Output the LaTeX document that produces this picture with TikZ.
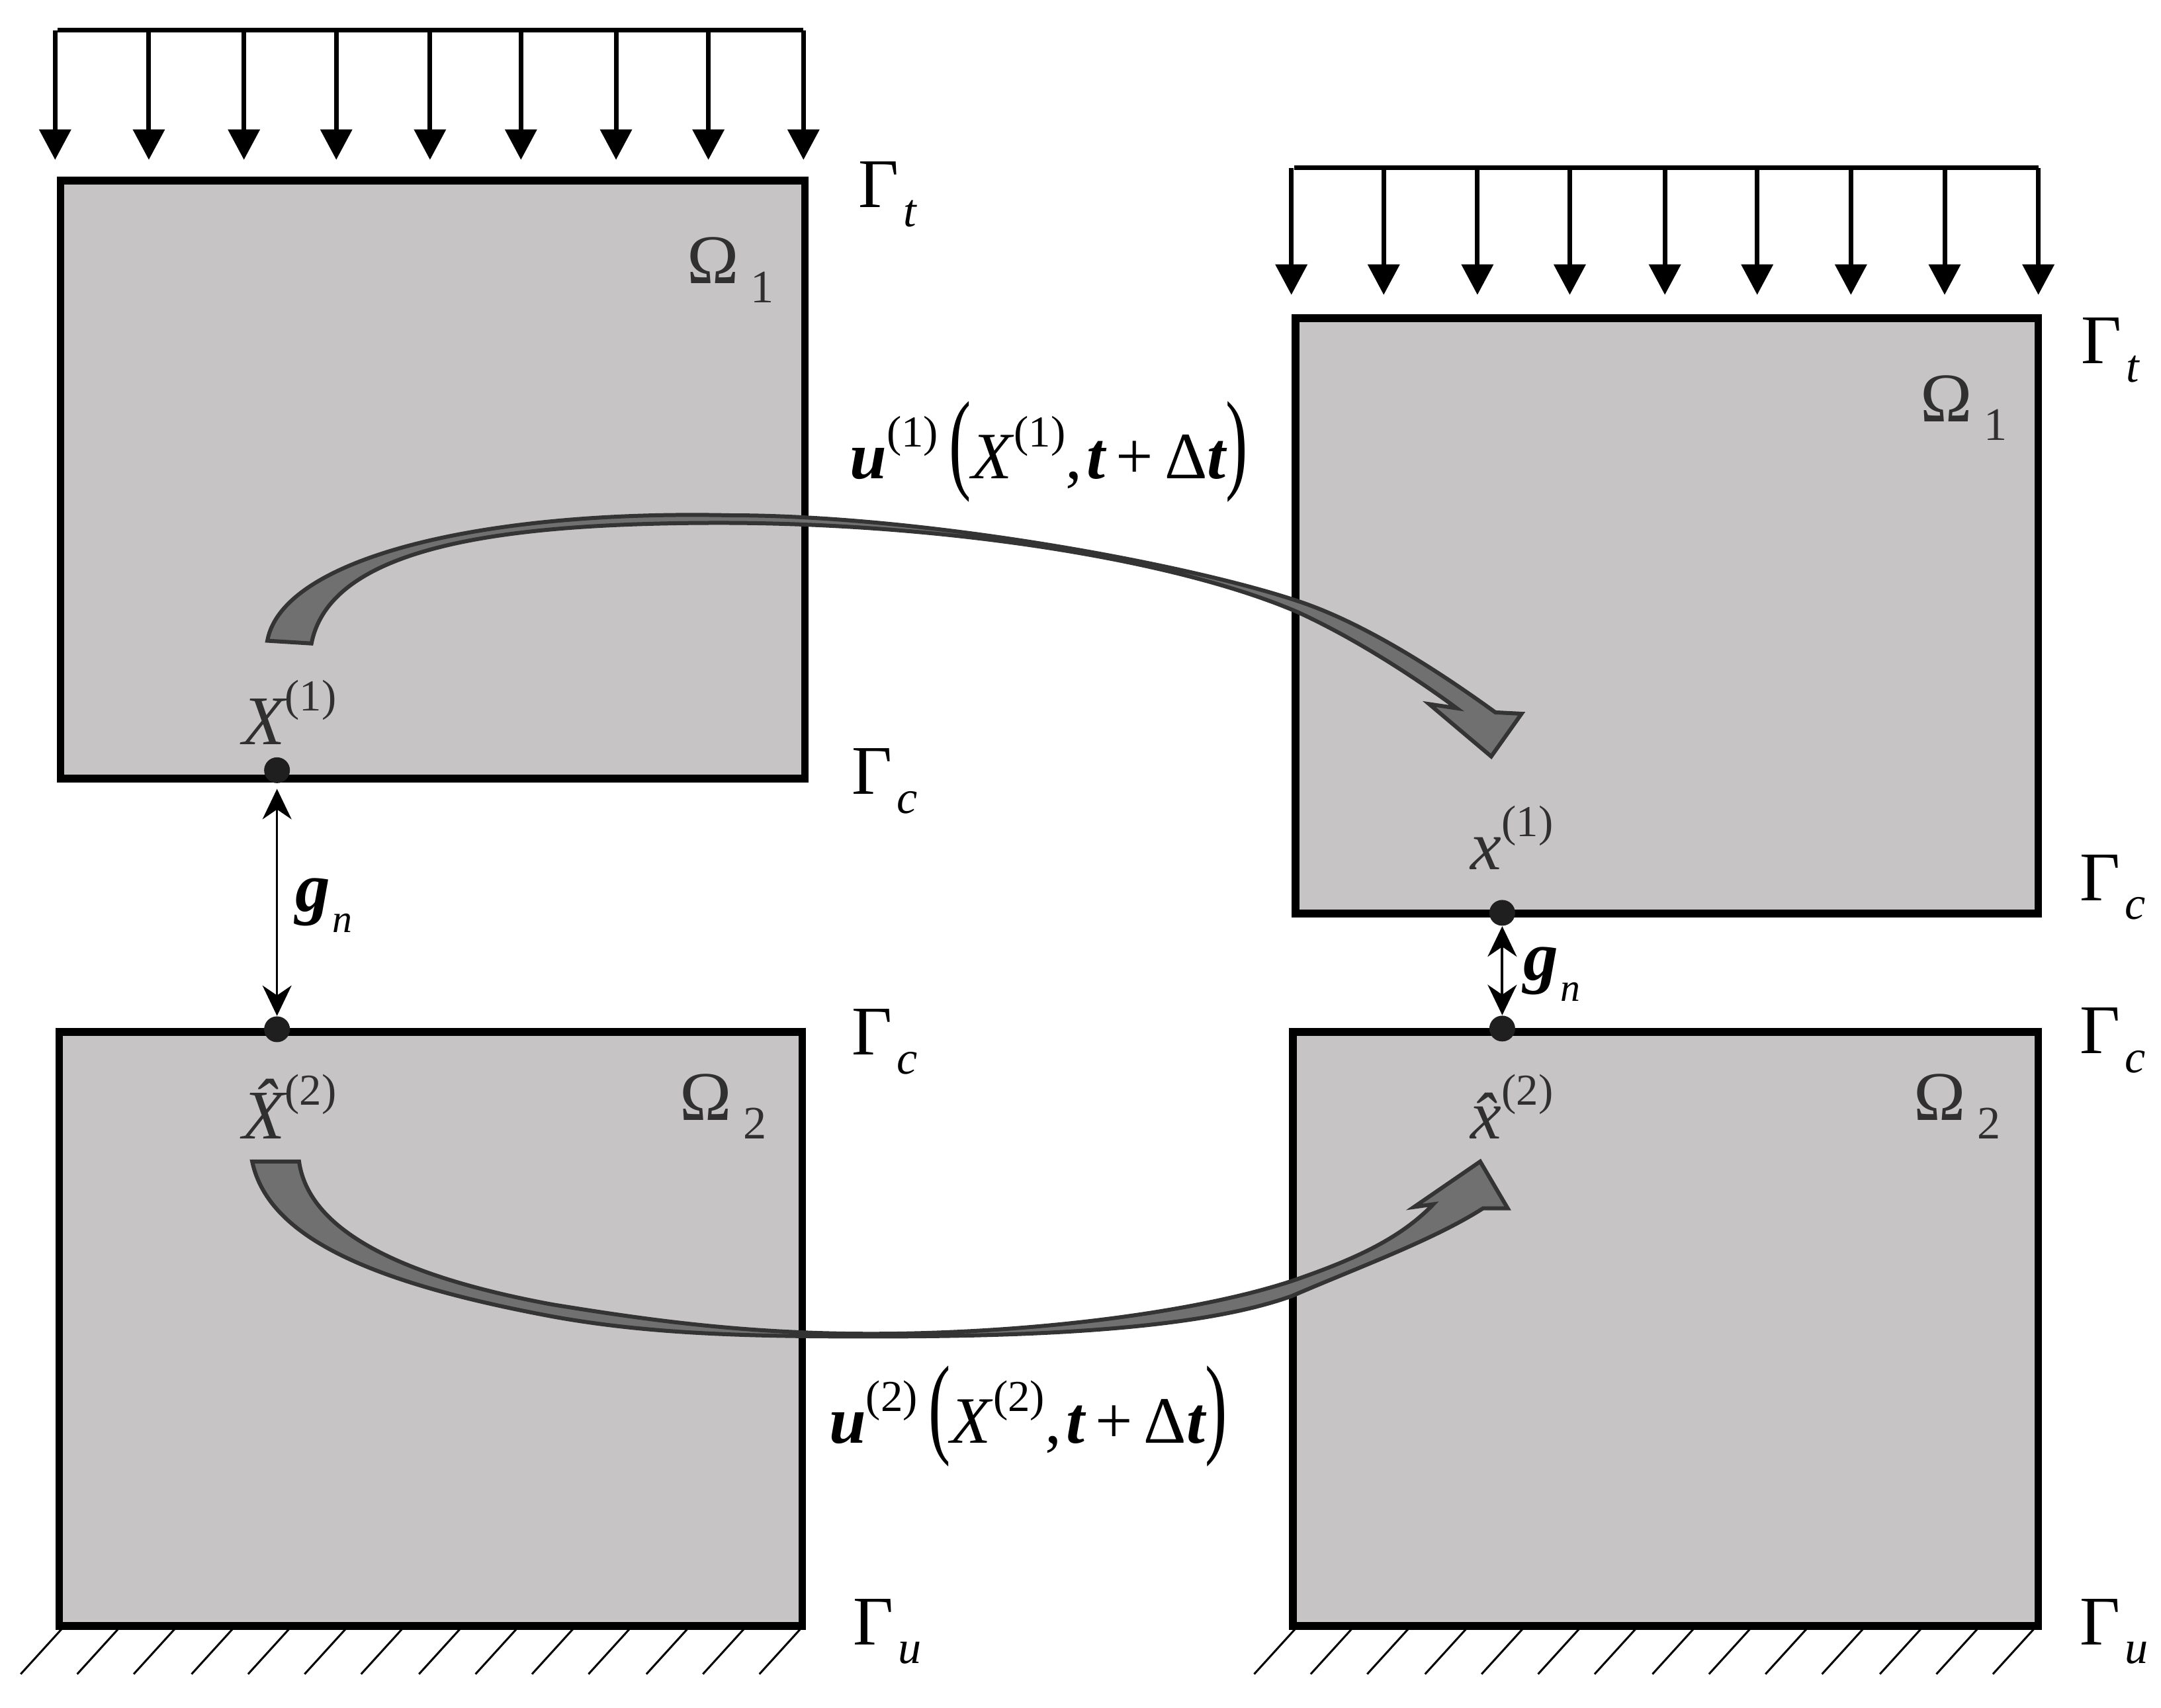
\documentclass[tikz,border=0pt]{standalone}
\usepackage{fontspec}
\setmainfont{Liberation Serif}
\usetikzlibrary{arrows.meta}
\definecolor{platefill}{RGB}{198,196,197}
\definecolor{sweepfill}{RGB}{112,112,112}
\definecolor{sweepline}{RGB}{52,52,52}
\definecolor{inktext}{RGB}{48,48,48}
\newcommand{\lowtext}[1]{\raisebox{-.27em}{\fontsize{20}{24}\selectfont #1}}
\newcommand{\hightext}[1]{\raisebox{.48em}{\fontsize{19}{24}\selectfont #1}}
\newcommand{\boldit}[1]{{\bfseries\itshape #1}}
\newcommand{\tallpar}[1]{\scalebox{1}[1.68]{#1}}
\newcommand{\gamlab}[1]{Γ\kern2pt\lowtext{\itshape #1}}
\newcommand{\gaplab}{\boldit{g}\kern1pt\raisebox{-.3em}{\fontsize{17}{20}\selectfont\itshape n}}
\tikzset{
 plate/.style={draw=black,fill=platefill,line width=.115cm,line join=miter},
 load/.style={line width=.07cm,-{Triangle[length=.46cm,width=.47cm]}},
 loadtop/.style={line width=.07cm},
 hatch/.style={line width=.03cm},
 sweep/.style={draw=sweepline,fill=sweepfill,line width=.06cm,line join=miter},
 contact/.style={circle,fill=black!88,inner sep=0pt,minimum size=.39cm},
 gaparrow/.style={{Stealth[length=.46cm,width=.44cm,inset=.15cm]}-{Stealth[length=.46cm,width=.44cm,inset=.15cm]}},
 lab/.style={inner sep=0pt,font=\fontsize{30}{36}\selectfont},
 inlab/.style={lab,text=inktext},
 movelab/.style={inner sep=0pt,font=\fontsize{28.5}{34}\selectfont}
}
\begin{document}
\begin{tikzpicture}[x=.02083cm,y=-.02083cm]
\useasboundingbox (0,0) rectangle (1568,1239.5);
% bodies before contact
\draw[plate] (44,131) rectangle (584,565);
\draw[plate] (43,749) rectangle (582,1180);
% bodies after contact
\draw[plate] (940,231) rectangle (1479,663);
\draw[plate] (938,749) rectangle (1479,1180);
% load on the left body
\draw[loadtop] (42,22)--(583,22);
\draw[load] (40,22)--(40,116);
\draw[load] (108,22)--(108,116);
\draw[load] (177,22)--(177,116);
\draw[load] (244,22)--(244,116);
\draw[load] (312,22)--(312,116);
\draw[load] (378,22)--(378,116);
\draw[load] (447,22)--(447,116);
\draw[load] (514,22)--(514,116);
\draw[load] (583,22)--(583,116);
% load on the right body
\draw[loadtop] (939,121.5)--(1479,121.5);
\draw[load] (937,122)--(937,214);
\draw[load] (1004,122)--(1004,214);
\draw[load] (1072,122)--(1072,214);
\draw[load] (1139,122)--(1139,214);
\draw[load] (1208,122)--(1208,214);
\draw[load] (1275,122)--(1275,214);
\draw[load] (1343,122)--(1343,214);
\draw[load] (1411,122)--(1411,214);
\draw[load] (1479,122)--(1479,214);
% supports
\draw[hatch] (45,1182)--(15,1215) (86,1182)--(56,1215) (127,1182)--(97,1215) (169,1182)--(139,1215)
 (210,1182)--(180,1215) (251,1182)--(221,1215) (292,1182)--(262,1215) (334,1182)--(304,1215)
 (375,1182)--(345,1215) (416,1182)--(386,1215) (457,1182)--(427,1215) (499,1182)--(469,1215)
 (540,1182)--(510,1215) (581,1182)--(551,1215);
\draw[hatch] (940,1182)--(910,1215) (981,1182)--(951,1215) (1022,1182)--(992,1215) (1064,1182)--(1034,1215)
 (1105,1182)--(1075,1215) (1146,1182)--(1116,1215) (1187,1182)--(1157,1215) (1229,1182)--(1199,1215)
 (1270,1182)--(1240,1215) (1311,1182)--(1281,1215) (1352,1182)--(1322,1215) (1394,1182)--(1364,1215)
 (1435,1182)--(1405,1215) (1476,1182)--(1446,1215);
% motion of body 1
\draw[sweep] (194,465) .. controls (205,405) and (350,370) .. (530,374)
 .. controls (670,374) and (860,409) .. (941,436)
 .. controls (990,452) and (1045,488) .. (1085,517)
 -- (1104,518) -- (1082,549) -- (1037,511) -- (1057,514)
 .. controls (1030,494) and (985,464) .. (941,444)
 .. controls (850,405) and (680,379) .. (517,379.5)
 .. controls (370,380) and (240,395) .. (226,467) -- cycle;
% motion of body 2
\draw[sweep] (183,843) .. controls (195,900) and (275,932) .. (401,955.5)
 .. controls (470,968) and (540,970) .. (632,970)
 .. controls (750,970) and (870,965) .. (937.6,940.5)
 .. controls (985,920) and (1040,900) .. (1076,877)
 -- (1094,877) -- (1074,843) -- (1026,876) -- (1040,874)
 .. controls (1015,900) and (980,915) .. (937.6,929.6)
 .. controls (870,952) and (750,968) .. (632,968)
 .. controls (540,968) and (470,958) .. (401,946.8)
 .. controls (310,930) and (225,900) .. (217,843) -- cycle;
% contact points and gaps
\node[contact] (Xone) at (201,559) {};
\node[contact] (Xtwo) at (201,747) {};
\node[contact] (xone) at (1090,662.5) {};
\node[contact] (xtwo) at (1090,746.5) {};
\draw[gaparrow,line width=.03cm,shorten <=.08cm] (Xone)--(Xtwo);
\draw[gaparrow,line width=.04cm] (xone)--(xtwo);
% labels
\draw (644,141) node[lab] (gtleft) {\gamlab{t}};
\draw (642,567) node[lab] (gcleft) {\gamlab{c}};
\draw (642,756) node[lab] (gcdown) {\gamlab{c}};
\draw (644,1184) node[lab] (guleft) {\gamlab{u}};
\draw (1531,254) node[lab] (gtright) {\gamlab{t}};
\draw (1533,644) node[lab] (gcright) {\gamlab{c}};
\draw (1533,755) node[lab] (gclow) {\gamlab{c}};
\draw (1534,1184) node[lab] (guright) {\gamlab{u}};
\draw (530,196) node[inlab] (omegaA) {Ω\,\lowtext{1}};
\draw (1425,296) node[inlab] (omegaB) {Ω\,\lowtext{1}};
\draw (525,803) node[inlab] (omegaC) {Ω\,\lowtext{2}};
\draw (1420,803) node[inlab] (omegaD) {Ω\,\lowtext{2}};
\draw (210,517) node[inlab] (labXone) {\itshape X\upshape\hightext{(1)}};
\draw (210,803) node[inlab] (labXtwo) {\itshape \^X\upshape\hightext{(2)}};
\draw (1097,608) node[inlab] (labxone) {\itshape x\upshape\hightext{(1)}};
\draw (1097,803) node[inlab] (labxtwo) {\itshape \^x\upshape\hightext{(2)}};
\draw (235,657) node[lab] (gapA) {\gaplab};
\draw (1126,707) node[lab] (gapB) {\gaplab};
\draw (761,328) node[movelab] (moveA) {\boldit{u}\hightext{(1)}\,\tallpar{(}\textit{X}\hightext{(1)},\kern2pt\boldit{t}\,+\,Δ\boldit{t}\tallpar{)}};
\draw (746,1028) node[movelab] (moveB) {\boldit{u}\hightext{(2)}\,\tallpar{(}\textit{X}\hightext{(2)},\kern2pt\boldit{t}\,+\,Δ\boldit{t}\tallpar{)}};
\end{tikzpicture}
\end{document}
